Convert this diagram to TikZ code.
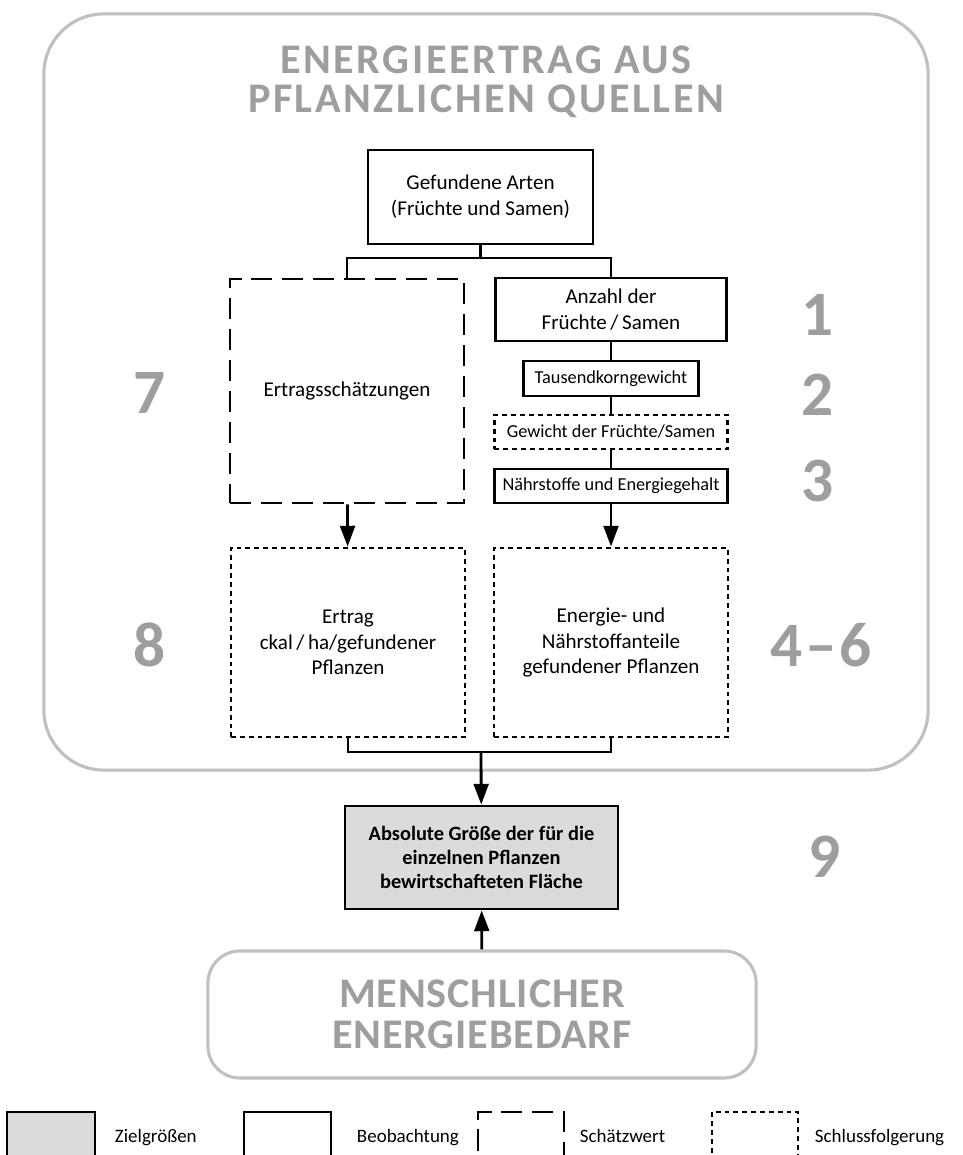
\documentclass[tikz,border=0pt]{standalone}
\usepackage{fontspec}
\setmainfont{Carlito}
\newfontfamily\headfont{Carlito}[LetterSpace=6]
\newfontfamily\demandfont{Carlito}[LetterSpace=2]
\usetikzlibrary{arrows.meta,positioning}
\definecolor{framegray}{RGB}{192,192,192}
\definecolor{titlegray}{RGB}{158,158,158}
\definecolor{goalfill}{RGB}{218,219,219}
\tikzset{
  box/.style={draw,line width=2pt,align=center,inner sep=2pt,font=\fontsize{15}{18.3}\selectfont},
  estbox/.style={box,dash pattern=on 15pt off 7pt},
  infbox/.style={box,dash pattern=on 3.5pt off 2.8pt},
  goalbox/.style={box,fill=goalfill,font=\fontsize{14.5}{17}\selectfont\bfseries},
  small/.style={font=\fontsize{13}{15}\selectfont},
  frame/.style={draw=framegray,line width=2.2pt,rounded corners=1.5cm},
  headline/.style={text=titlegray,align=center,font=\fontsize{30}{28}\headfont\bfseries},
  demand/.style={text=titlegray,align=center,font=\fontsize{30}{29.5}\demandfont\bfseries},
  stepnum/.style={text=titlegray,font=\fontsize{45}{45}\selectfont\bfseries},
  arr/.style={-{Triangle[length=0.52cm,width=0.37cm]},line width=2pt},
  link/.style={line width=2pt},
  legtext/.style={anchor=base west,font=\fontsize{13.5}{16}\selectfont},
}
\begin{document}
\begin{tikzpicture}[x=0.025cm,y=-0.025cm]
\path[use as bounding box,clip] (0,0) rectangle (962,1155);

% upper frame
\node[frame,minimum width=22.1cm,minimum height=18.9cm](plant) at (486,392){};
\node[headline](planttitle) at (486,82){ENERGIEERTRAG AUS\\PFLANZLICHEN QUELLEN};

\node[box,minimum width=5.625cm,minimum height=2.35cm](gef) at (480.5,197){Gefundene Arten\\(Früchte und Samen)};
\node[estbox,minimum width=5.85cm,minimum height=5.6cm](schaetz) at (347,391){Ertragsschätzungen};
\node[box,minimum width=5.775cm,minimum height=1.575cm](anzahl) at (611,309.5){Anzahl der\\Früchte\,/\,Samen};
\node[box,small,minimum width=4.375cm,minimum height=0.875cm](tkg) at (611,378.5){Tausendkorngewicht};
\node[infbox,small,minimum width=5.825cm,minimum height=0.85cm](gewicht) at (611,432){Gewicht der Früchte/Samen};
\node[box,small,minimum width=5.825cm,minimum height=0.85cm](naehr) at (611,486){Nährstoffe und Energiegehalt};
\node[infbox,minimum width=5.85cm,minimum height=4.725cm](ertrag) at (348,642.5){Ertrag\\ckal\,/\,ha/gefundener\\Pflanzen};
\node[infbox,minimum width=5.85cm,minimum height=4.725cm](anteile) at (611,642.5){Energie- und\\Nährstoffanteile\\gefundener Pflanzen};

% connectors
\coordinate (split) at (480.5,258);
\coordinate (merge) at (481,752);
\draw[link] (gef) -- (split);
\draw[link] (schaetz.north) |- (split) -| (anzahl.north);
\draw[link] (anzahl) -- (tkg);
\draw[link] (tkg) -- (gewicht);
\draw[link] (gewicht) -- (naehr);
\draw[arr] (schaetz) -- (ertrag);
\draw[arr] (naehr) -- (anteile);

% target and demand
\node[goalbox,minimum width=6.825cm,minimum height=2.575cm](flaeche) at (481.5,857.5){Absolute Größe der für die\\einzelnen Pflanzen\\bewirtschafteten Fläche};
\node[frame,demand,rounded corners=0.8cm,minimum width=13.7cm,minimum height=3.175cm](bedarf) at (482,1014.5){MENSCHLICHER\\ENERGIEBEDARF};
\draw[link] (ertrag.south) |- (merge) -| (anteile.south);
\draw[arr] (merge) -- (flaeche);
\draw[arr] (bedarf) -- (flaeche);

% step numbers
\node[stepnum](n1) at (818,315){1};
\node[stepnum](n2) at (818,395){2};
\node[stepnum](n3) at (818,481){3};
\node[stepnum](n46) at (821,645){4\kern2pt--\kern2pt6};
\node[stepnum](n7) at (150,393){7};
\node[stepnum](n8) at (150,645){8};
\node[stepnum](n9) at (825,857){9};

% legend
\node[box,fill=goalfill,minimum width=2.2cm,minimum height=1.45cm](leggoal) at (51,1141){};
\node[box,minimum width=2.175cm,minimum height=1.45cm](legobs) at (287.5,1141){};
\node[estbox,minimum width=2.15cm,minimum height=1.45cm](legest) at (521,1141){};
\node[infbox,minimum width=2.15cm,minimum height=1.45cm](leginf) at (755,1141){};
\node[legtext](lgoal) at (110,1142){Zielgrößen};
\node[legtext](lobs) at (352,1142){Beobachtung};
\node[legtext](lest) at (575,1142){Schätzwert};
\node[legtext](linf) at (810,1142){Schlussfolgerung};
\end{tikzpicture}
\end{document}
